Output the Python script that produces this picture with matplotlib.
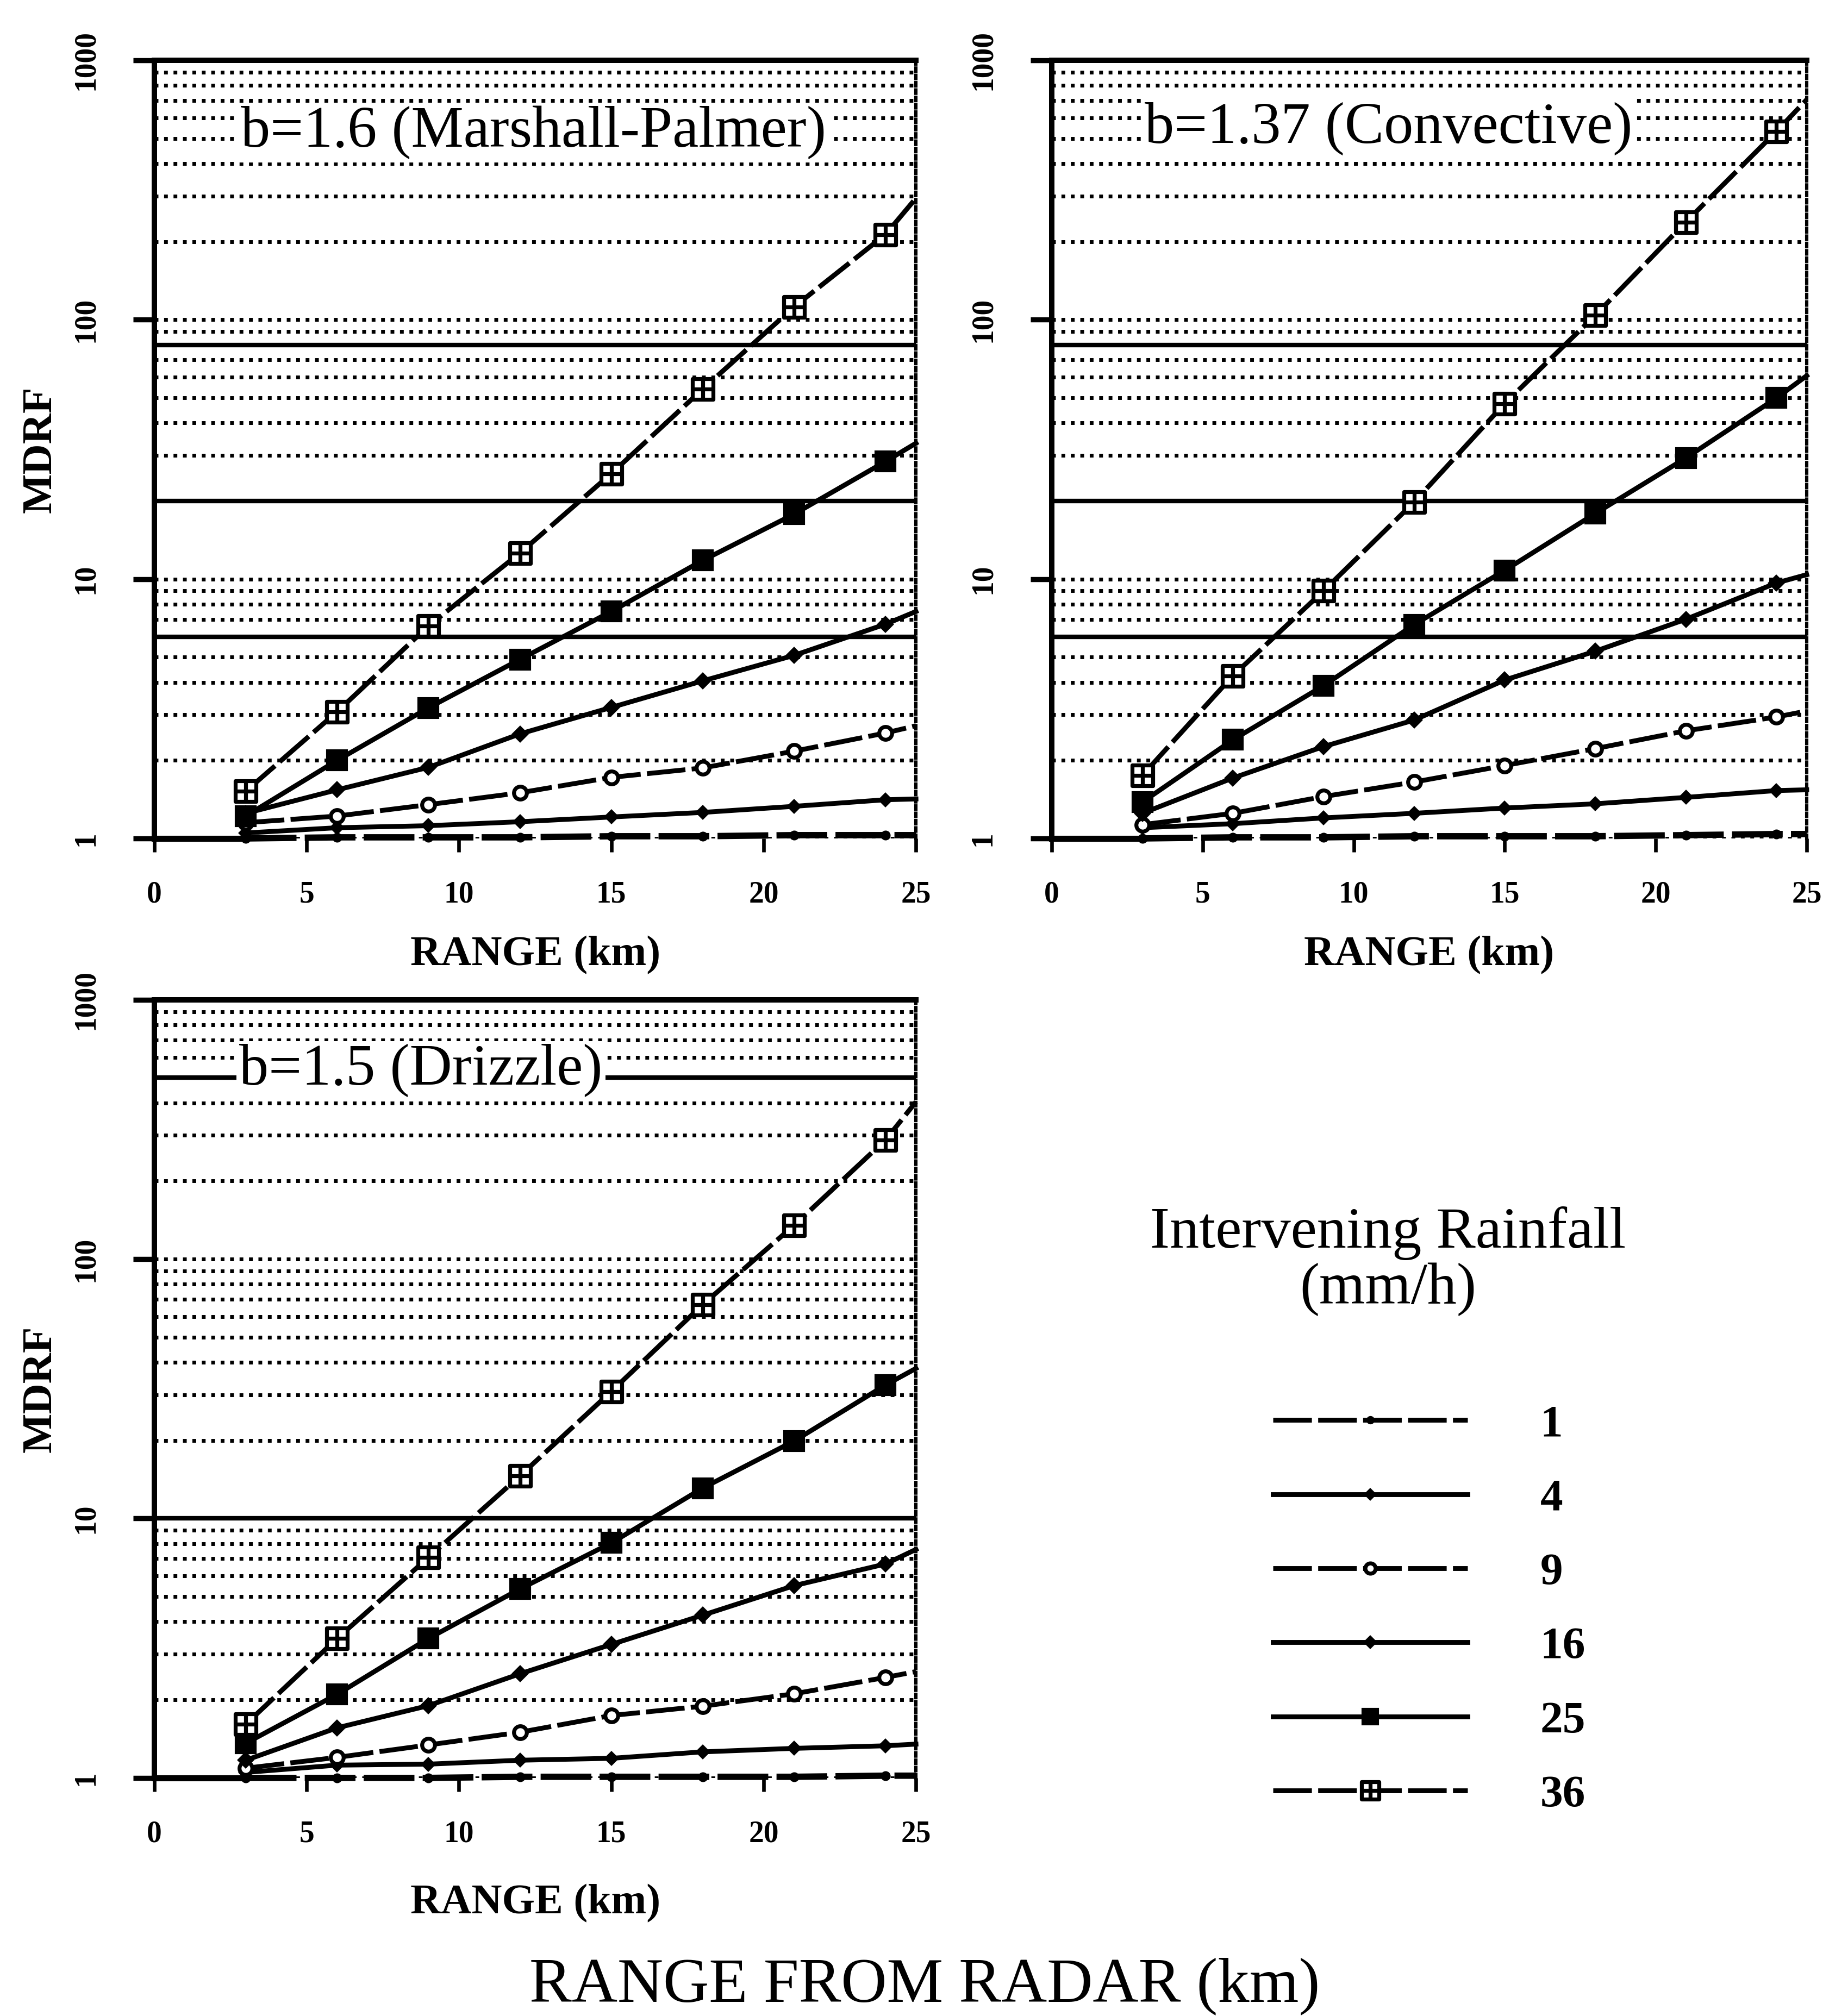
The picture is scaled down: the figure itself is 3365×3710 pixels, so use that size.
import matplotlib
matplotlib.use("Agg")
import matplotlib.pyplot as plt
from matplotlib.path import Path
from matplotlib.lines import Line2D
from matplotlib.ticker import NullFormatter

plt.rcParams["font.family"] = ["Liberation Serif", "DejaVu Serif"]

# ── Data ──────────────────────────────────────────────────────────────────────
RANGE_KM   = [3, 6, 9, 12, 15, 18, 21, 24, 25]
RAIN_RATES = [1, 4, 9, 16, 25, 36]
BASE_X     = [0, 3]
BASE_Y     = [1, 1]

X_TICKS       = [0, 5, 10, 15, 20, 25]
Y_TICKS       = [1, 10, 100, 1000]
Y_TICK_LABELS = ["1", "10", "100", "1000"]

# b = 1.6 (Marshall-Palmer)
MP_R1  = [1.00, 1.01, 1.01, 1.01, 1.02, 1.02, 1.03, 1.03, 1.03]
MP_R4  = [1.05, 1.10, 1.12, 1.16, 1.21, 1.26, 1.33, 1.41, 1.42]
MP_R9  = [1.15, 1.22, 1.35, 1.50, 1.72, 1.87, 2.17, 2.55, 2.72]
MP_R16 = [1.25, 1.54, 1.88, 2.53, 3.20, 4.05, 5.08, 6.70, 7.50]
MP_R25 = [1.22, 2.00, 3.19, 4.90, 7.50, 11.8, 17.8, 28.4, 33.4]
MP_R36 = [1.52, 3.08, 6.60, 12.6, 25.5, 54.0, 112, 213, 294]

# b = 1.37 (Convective)
CV_R1  = [1.00, 1.01, 1.01, 1.02, 1.02, 1.02, 1.03, 1.04, 1.04]
CV_R4  = [1.10, 1.14, 1.20, 1.25, 1.31, 1.36, 1.44, 1.53, 1.54]
CV_R9  = [1.13, 1.25, 1.45, 1.65, 1.91, 2.22, 2.60, 2.94, 3.10]
CV_R16 = [1.25, 1.71, 2.26, 2.86, 4.08, 5.27, 7.00, 9.66, 10.4]
CV_R25 = [1.38, 2.40, 3.88, 6.67, 10.8, 17.9, 29.3, 49.9, 60.8]
CV_R36 = [1.75, 4.24, 9.00, 19.8, 47.5, 104, 238, 532, 705]

# b = 1.5 (Drizzle)
DZ_R1  = [1.00, 1.00, 1.00, 1.01, 1.01, 1.01, 1.01, 1.02, 1.02]
DZ_R4  = [1.05, 1.12, 1.13, 1.17, 1.19, 1.26, 1.30, 1.33, 1.35]
DZ_R9  = [1.09, 1.20, 1.34, 1.50, 1.74, 1.89, 2.11, 2.44, 2.57]
DZ_R16 = [1.17, 1.56, 1.90, 2.52, 3.27, 4.24, 5.51, 6.68, 7.60]
DZ_R25 = [1.36, 2.10, 3.45, 5.35, 8.05, 13.1, 19.9, 32.7, 37.9]
DZ_R36 = [1.61, 3.45, 7.08, 14.6, 30.9, 66.8, 135, 288, 404]

PANELS = [
    dict(title="b=1.6 (Marshall-Palmer)",
         series=[MP_R1, MP_R4, MP_R9, MP_R16, MP_R25, MP_R36],
         rect=[0.0844, 0.5841, 0.4164, 0.386], title_xy=(0.498, 0.907),
         solid=[6, 20, 80], ylabel=True, xlabel_y=-0.125),
    dict(title="b=1.37 (Convective)",
         series=[CV_R1, CV_R4, CV_R9, CV_R16, CV_R25, CV_R36],
         rect=[0.5750, 0.5841, 0.4128, 0.386], title_xy=(0.446, 0.912),
         solid=[6, 20, 80], ylabel=False, xlabel_y=-0.125),
    dict(title="b=1.5 (Drizzle)",
         series=[DZ_R1, DZ_R4, DZ_R9, DZ_R16, DZ_R25, DZ_R36],
         rect=[0.0844, 0.1181, 0.4164, 0.386], title_xy=(0.350, 0.909),
         solid=[10, 500], ylabel=True, xlabel_y=-0.136),
]

# ── Styles ────────────────────────────────────────────────────────────────────
SQ_CROSS = Path(
    [(-1, -1), (1, -1), (1, 1), (-1, 1), (-1, -1), (-1, 0), (1, 0), (0, -1), (0, 1)],
    [Path.MOVETO, Path.LINETO, Path.LINETO, Path.LINETO, Path.CLOSEPOLY,
     Path.MOVETO, Path.LINETO, Path.MOVETO, Path.LINETO],
)
LONG_DASH = (0, (8, 1.3))
LINE_W    = 3.2

STYLES = {
    1:  dict(ls=LONG_DASH, marker="o", ms=5, mfc="black", lw=4.2),
    4:  dict(ls="-", marker="D", ms=5.5, mfc="black"),
    9:  dict(ls=LONG_DASH, marker="o", ms=8.5, mfc="white", mew=2.6),
    16: dict(ls="-", marker="D", ms=6.5, mfc="black"),
    25: dict(ls="-", marker="s", ms=13, mfc="black"),
    36: dict(ls=LONG_DASH, marker=SQ_CROSS, ms=14, mfc="white", mew=2.6),
}

TICK_FONT  = dict(family="Liberation Serif", weight="bold", size=20)
LABEL_FONT = dict(family="Liberation Serif", weight="bold", size=28)


def draw_panel(fig, p):
    ax = fig.add_axes(p["rect"])
    ax.set_yscale("log")
    ax.set_xlim(0, 25)
    ax.set_ylim(1, 1000)

    # grid: dotted minor lines, a few lines printed solid
    ax.grid(True, which="both", axis="y", color="black",
            ls=(0, (1, 1.5)), lw=2.5)
    for lev in p["solid"]:
        ax.axhline(lev, color="black", lw=3.0, zorder=1)

    ax.plot(BASE_X, BASE_Y, color="black", lw=4, clip_on=False, zorder=3)
    for rate, vals in zip(RAIN_RATES, p["series"]):
        st = STYLES[rate]
        ax.plot(RANGE_KM, vals, color="black", lw=st.get("lw", LINE_W),
                ls=st["ls"], marker=st["marker"], ms=st["ms"], mfc=st["mfc"],
                mec="black", mew=st.get("mew", 1.5),
                markevery=list(range(len(RANGE_KM) - 1)),
                clip_on=False, zorder=3)

    ax.text(*p["title_xy"], p["title"], transform=ax.transAxes,
            ha="center", va="center", fontsize=39, zorder=5,
            bbox=dict(facecolor="white", edgecolor="none", pad=2))

    ax.set_xticks(X_TICKS)
    ax.set_xticklabels([str(t) for t in X_TICKS], fontdict=TICK_FONT)
    ax.set_yticks(Y_TICKS)
    ax.set_yticklabels(Y_TICK_LABELS, fontdict=TICK_FONT, rotation=90,
                       va="center")
    ax.yaxis.set_minor_formatter(NullFormatter())
    ax.tick_params(axis="y", which="major", direction="out", length=14,
                   width=3.4, pad=22)
    ax.tick_params(axis="y", which="minor", length=0)
    ax.tick_params(axis="x", direction="out", length=9, width=2.4, pad=19)

    for side in ["left", "top"]:
        ax.spines[side].set_linewidth(3.6)
    ax.spines["right"].set_linestyle((0, (1, 1.2)))
    ax.spines["right"].set_linewidth(2.2)
    ax.spines["bottom"].set_visible(False)

    ax.set_xlabel("RANGE (km)", fontdict=LABEL_FONT)
    ax.xaxis.set_label_coords(0.5, p["xlabel_y"])
    if p["ylabel"]:
        ax.set_ylabel("MDRF", fontdict=LABEL_FONT)
        ax.yaxis.set_label_coords(-0.124, 0.5)
    return ax


# ── Figure ────────────────────────────────────────────────────────────────────
fig = plt.figure(figsize=(16.825, 18.55), dpi=200)

for panel in PANELS:
    draw_panel(fig, panel)

fig.text(0.759, 0.3744, "Intervening Rainfall\n(mm/h)", ha="center",
         va="center", fontsize=39, linespacing=1.05)

handles = [
    Line2D([], [], color="black", lw=LINE_W, ls=STYLES[r]["ls"],
           marker=STYLES[r]["marker"], ms=STYLES[r]["ms"] * 0.8,
           mfc=STYLES[r]["mfc"], mec="black", mew=STYLES[r].get("mew", 1.5))
    for r in RAIN_RATES
]
fig.legend(handles, [str(r) for r in RAIN_RATES], loc="upper left",
           bbox_to_anchor=(0.696, 0.3035), frameon=False,
           prop=dict(family="Liberation Serif", weight="bold", size=30),
           handlelength=4.3, handletextpad=1.6, labelspacing=0.72,
           borderpad=0, borderaxespad=0)

fig.text(0.5055, 0.0148, "RANGE FROM RADAR (km)", ha="center", va="center",
         fontsize=42)

fig.savefig("out.png", dpi=200)
